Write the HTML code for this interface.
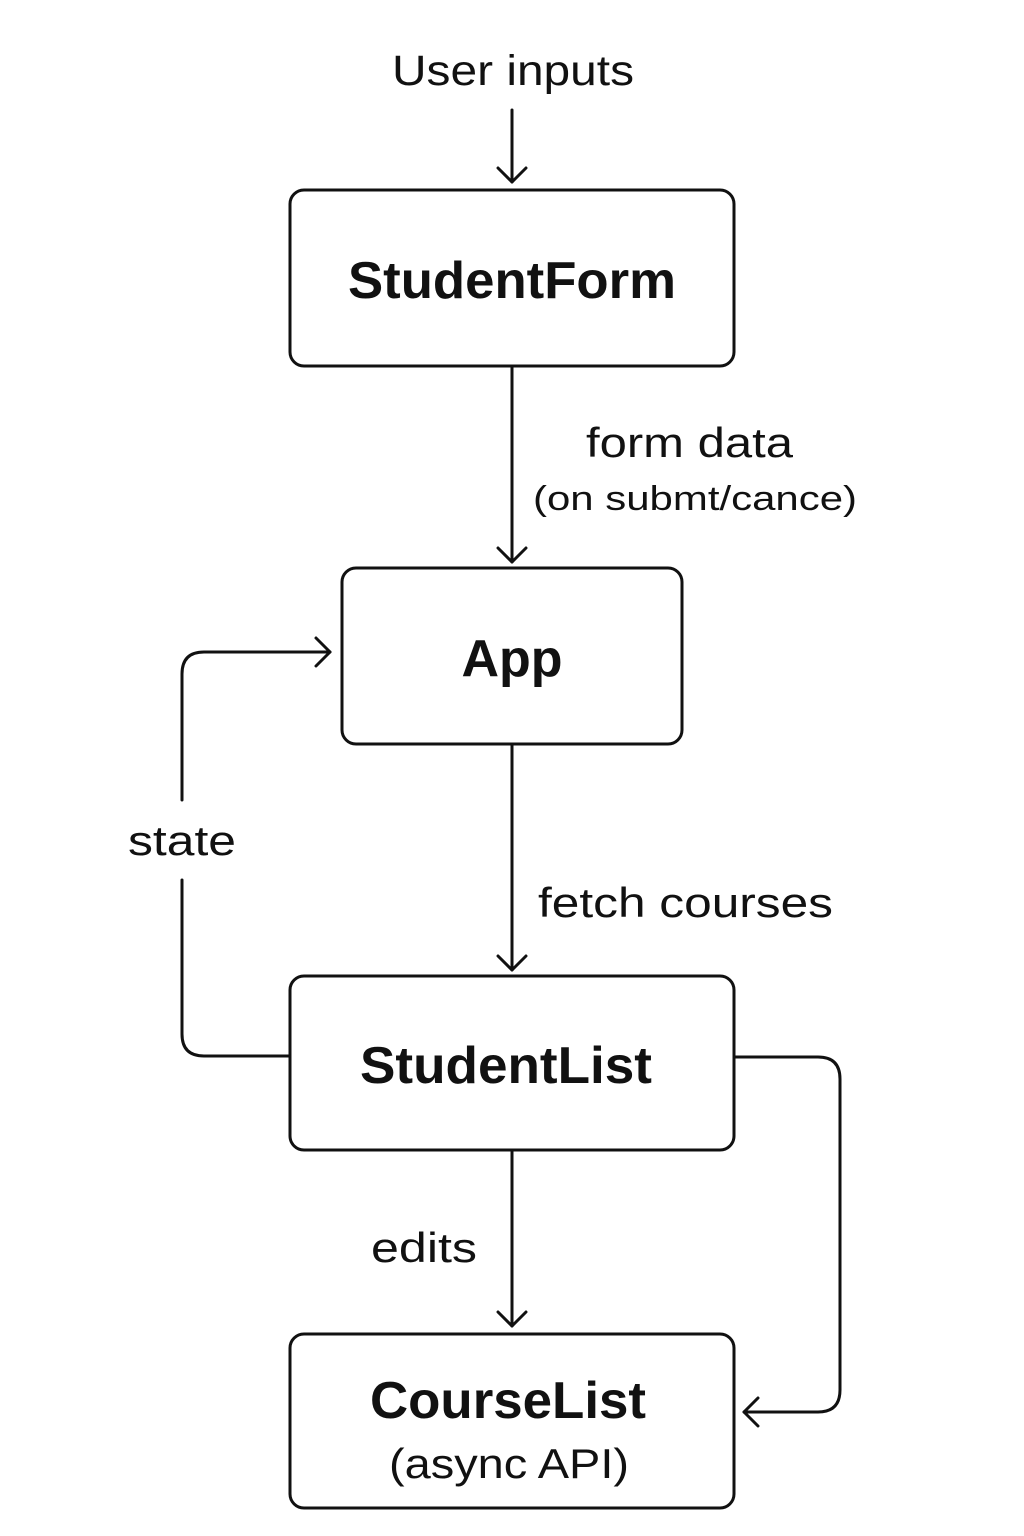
<!DOCTYPE html>
<html><head><meta charset="utf-8"><style>
html,body{margin:0;padding:0;background:#fff;}
svg{display:block;}
text{font-family:"Liberation Sans",sans-serif;fill:#111;}
</style></head><body>
<svg width="1024" height="1536" viewBox="0 0 1024 1536" xmlns="http://www.w3.org/2000/svg">
<g fill="none" stroke="#111" stroke-width="3" stroke-linecap="round" stroke-linejoin="round">
<rect x="290" y="190" width="444" height="176" rx="14"/>
<rect x="342" y="568" width="340" height="176" rx="14"/>
<rect x="290" y="976" width="444" height="174" rx="14"/>
<rect x="290" y="1334" width="444" height="174" rx="14"/>
<line x1="512" y1="110" x2="512" y2="182"/><polyline points="498,168 512,182 526,168"/>
<line x1="512" y1="366" x2="512" y2="562"/><polyline points="498,548 512,562 526,548"/>
<line x1="512" y1="744" x2="512" y2="970"/><polyline points="498,956 512,970 526,956"/>
<line x1="512" y1="1150" x2="512" y2="1326"/><polyline points="498,1312 512,1326 526,1312"/>
<path d="M290 1056 H204 Q182 1056 182 1034 V880"/>
<path d="M182 800 V674 Q182 652 204 652 H330"/>
<polyline points="316,638 330,652 316,666"/>
<path d="M734 1057 H818 Q840 1057 840 1079 V1390 Q840 1412 818 1412 H744"/>
<polyline points="758,1398 744,1412 758,1426"/>
</g>
<text x="392" y="85" font-size="43" textLength="242" lengthAdjust="spacingAndGlyphs">User inputs</text>
<text x="348" y="298" font-size="52" font-weight="bold" textLength="328" lengthAdjust="spacingAndGlyphs">StudentForm</text>
<text x="586" y="457" font-size="42" textLength="207" lengthAdjust="spacingAndGlyphs">form data</text>
<text x="533" y="510" font-size="34" textLength="324" lengthAdjust="spacingAndGlyphs">(on submt/cance)</text>
<text x="512" y="676" font-size="52" font-weight="bold" text-anchor="middle">App</text>
<text x="538" y="917" font-size="42" textLength="295" lengthAdjust="spacingAndGlyphs">fetch courses</text>
<text x="128" y="855" font-size="42" textLength="108" lengthAdjust="spacingAndGlyphs">state</text>
<text x="360" y="1083" font-size="52" font-weight="bold" textLength="292" lengthAdjust="spacingAndGlyphs">StudentList</text>
<text x="371" y="1262" font-size="42" textLength="106" lengthAdjust="spacingAndGlyphs">edits</text>
<text x="370" y="1418" font-size="52" font-weight="bold" textLength="276" lengthAdjust="spacingAndGlyphs">CourseList</text>
<text x="389" y="1478" font-size="42" textLength="240" lengthAdjust="spacingAndGlyphs">(async API)</text>
</svg>
</body></html>
